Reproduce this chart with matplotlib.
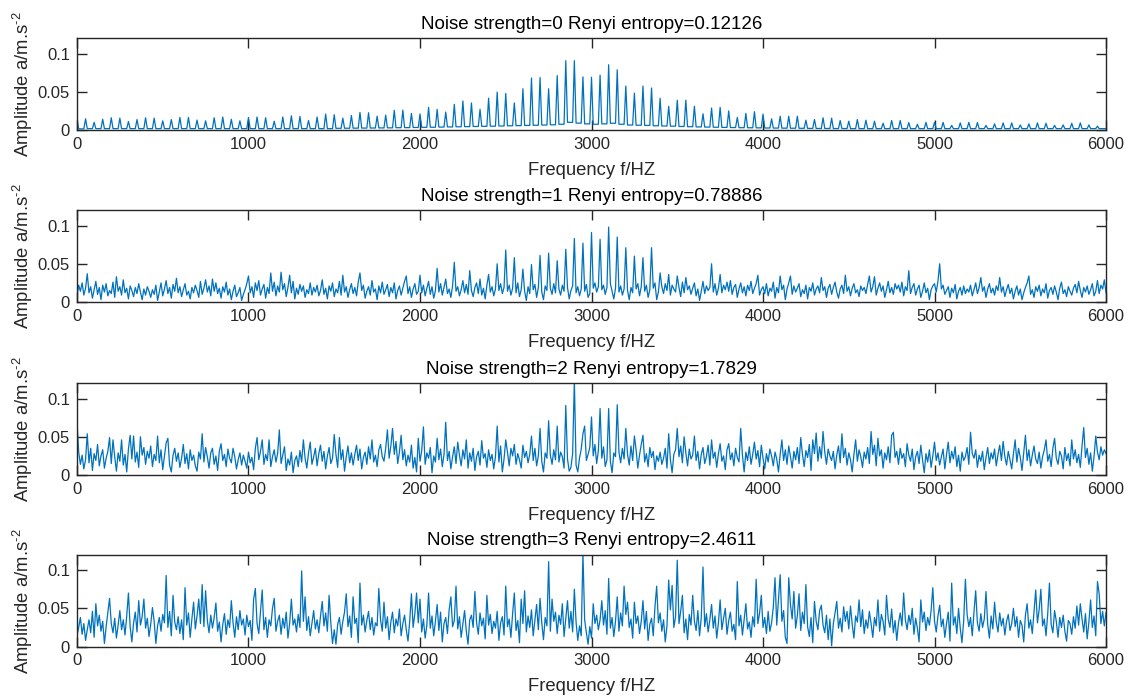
import numpy as np
import matplotlib
matplotlib.use('Agg')
import matplotlib.pyplot as plt

plt.rcParams['font.family'] = ['Liberation Sans', 'DejaVu Sans']
plt.rcParams['mathtext.fontset'] = 'custom'
plt.rcParams['mathtext.rm'] = 'Liberation Sans'
plt.rcParams['mathtext.default'] = 'regular'

noise_strength = [0, 1, 2, 3]
renyi_entropy = ['0.12126', '0.78886', '1.7829', '2.4611']

# clean spectrum: harmonic lines every 50 Hz from 0 to 5950 Hz (1e-3 m/s^2)
harmonic_step = 50
clean_peaks = [
    13, 14.6, 10, 14, 16, 15.5, 11, 13.7, 16, 15.5,
    12, 13.7, 16.4, 16.4, 13, 12, 16, 17, 14, 12,
    16.4, 17, 16, 11.5, 17, 18.6, 17.7, 12.4, 17, 20.8,
    20, 15.5, 19, 23, 22.6, 18, 19.5, 25.7, 26, 21.7,
    21, 29.6, 27, 23.5, 33.6, 38, 35.4, 27, 41.6, 49.6,
    47.8, 35.4, 54, 68, 68.6, 54, 71.2, 90.7, 90.7, 69.5,
    69, 71.7, 85.4, 78.8, 57.5, 48.2, 57.5, 55, 41.6, 31,
    39, 39, 31, 21.2, 28.8, 29.6, 25, 16.4, 21.7, 24,
    20.8, 14.6, 18, 18, 18, 12.8, 13.7, 16, 15.5, 12.4,
    11.5, 13.7, 12.8, 11.5, 8.8, 12.4, 12.4, 9.7, 7.5, 10,
    10, 10, 6, 9.3, 10, 9.7, 6, 8, 9.3, 9.3,
    6.6, 8, 9.3, 8.8, 6, 6.6, 8.8, 9.3, 6.6, 5,
]
# level between neighbouring lines (gap after each line)
clean_floor = [
    1.5, 1.8, 1.8, 1.8, 1.8, 1.8, 1.8, 1.8, 1.8, 1.8,
    1.8, 1.8, 1.8, 1.8, 1.8, 1.8, 1.8, 1.8, 1.8, 1.8,
    1.8, 1.8, 1.8, 1.8, 1.8, 1.8, 1.8, 1.8, 1.8, 1.8,
    2.2, 2.3, 2.4, 2.5, 2.6, 2.7, 2.8, 3.0, 3.1, 3.3,
    3.5, 3.6, 3.8, 4.0, 4.2, 4.4, 4.6, 4.8, 5.0, 5.2,
    5.5, 5.7, 6.0, 6.2, 6.5, 6.8, 7.5, 10, 9, 8,
    7.5, 8, 8.8, 7.5, 6.5, 6.2, 6.0, 5.5, 5.2, 5.0,
    4.6, 4.3, 4.0, 3.8, 3.6, 3.4, 3.2, 3.0, 2.9, 2.8,
    2.6, 2.5, 2.4, 2.3, 2.2, 2.1, 2.0, 2.0, 1.9, 1.9,
    1.8, 1.8, 1.8, 1.8, 1.8, 1.8, 1.8, 1.8, 1.8, 1.8,
    1.8, 1.8, 1.8, 1.8, 1.8, 1.8, 1.8, 1.8, 1.8, 1.8,
    1.8, 1.8, 1.8, 1.8, 1.8, 1.8, 1.8, 1.8, 1.8, 1.8,
]

# noisy spectra, one value every 10 Hz from 0 to 6000 Hz (1e-3 m/s^2)
noisy_step = 10
noisy_1 = [
    8, 22, 14, 25, 9, 18, 37, 12, 20, 5, 16, 27, 10, 19, 3, 22, 13, 24, 8, 15,
    11, 26, 6, 33, 14, 20, 9, 29, 12, 18, 4, 21, 15, 7, 19, 11, 24, 13, 3, 17,
    9, 20, 14, 6, 16, 10, 22, 2, 13, 25, 8, 17, 28, 11, 19, 5, 23, 14, 31, 12,
    20, 7, 16, 24, 9, 14, 4, 19, 12, 22, 15, 6, 27, 10, 18, 29, 13, 21, 8, 30,
    14, 25, 11, 18, 5, 20, 13, 26, 9, 17, 3, 14, 22, 7, 12, 19, 2, 10, 16, 24,
    34, 12, 20, 6, 25, 15, 28, 9, 17, 23, 5, 19, 11, 38, 14, 26, 8, 21, 13, 39,
    16, 24, 7, 19, 35, 12, 27, 4, 18, 10, 23, 14, 21, 6, 16, 11, 25, 9, 19, 13,
    22, 8, 15, 29, 10, 18, 4, 21, 14, 25, 7, 17, 12, 27, 9, 35, 13, 20, 6, 16,
    24, 11, 19, 8, 26, 38, 15, 22, 5, 14, 20, 9, 28, 13, 17, 3, 21, 12, 26, 10,
    16, 23, 7, 19, 12, 25, 4, 15, 21, 9, 18, 27, 34, 11, 20, 6, 17, 24, 10, 14,
    35, 12, 22, 8, 18, 27, 10, 20, 5, 15, 44, 13, 24, 9, 19, 30, 11, 17, 6, 21,
    52, 14, 20, 8, 16, 28, 12, 23, 10, 41, 15, 7, 19, 25, 11, 30, 9, 18, 4, 22,
    36, 13, 20, 8, 17, 50, 15, 24, 11, 19, 68, 14, 22, 9, 18, 58, 12, 25, 7, 16,
    43, 14, 2, 20, 11, 49, 16, 23, 6, 19, 61, 13, 3, 21, 15, 64, 18, 10, 24, 12,
    54, 17, 9, 22, 14, 69, 19, 4, 15, 21, 83, 12, 20, 8, 17, 77, 14, 23, 6, 11,
    91, 18, 25, 13, 20, 82, 16, 22, 10, 19, 98, 24, 14, 4, 18, 85, 13, 21, 9, 17,
    71, 15, 3, 19, 12, 60, 17, 24, 8, 20, 58, 14, 22, 6, 16, 71, 18, 25, 3, 13,
    38, 20, 11, 24, 15, 36, 9, 22, 17, 13, 34, 19, 7, 26, 12, 32, 16, 21, 10, 18,
    25, 8, 17, 2, 14, 27, 11, 21, 15, 19, 50, 13, 24, 9, 18, 36, 12, 22, 16, 26,
    14, 28, 10, 19, 23, 6, 17, 25, 12, 20, 8, 22, 15, 27, 11, 18, 24, 35, 9, 16,
    20, 11, 24, 8, 18, 14, 26, 5, 19, 12, 34, 16, 22, 3, 17, 25, 34, 10, 21, 13,
    18, 24, 7, 16, 11, 22, 4, 19, 14, 25, 9, 17, 21, 12, 32, 15, 20, 6, 18, 23,
    10, 19, 26, 13, 5, 17, 22, 11, 35, 14, 20, 8, 18, 24, 12, 16, 7, 21, 15, 19,
    11, 23, 34, 13, 20, 33, 9, 18, 25, 14, 21, 6, 16, 27, 12, 19, 10, 24, 17, 22,
    13, 26, 8, 20, 15, 41, 11, 19, 24, 9, 17, 22, 6, 14, 25, 12, 18, 3, 16, 21,
    24, 13, 27, 50, 17, 22, 10, 15, 20, 6, 18, 12, 23, 4, 14, 19, 9, 21, 11, 17,
    13, 22, 8, 16, 25, 11, 19, 32, 14, 20, 6, 17, 24, 12, 18, 9, 21, 15, 32, 13,
    20, 7, 16, 23, 11, 18, 4, 14, 21, 9, 17, 3, 12, 19, 25, 34, 10, 16, 6, 20,
    14, 22, 8, 17, 12, 24, 5, 15, 19, 10, 21, 13, 3, 18, 26, 11, 16, 7, 20, 14,
    9, 18, 23, 12, 27, 15, 6, 19, 13, 21, 10, 16, 24, 8, 14, 28, 11, 22, 17, 29,
    12,
]
noisy_2 = [
    70, 30, 14, 26, 8, 20, 54, 16, 35, 6, 28, 19, 40, 12, 25, 33, 9, 22, 31, 49,
    15, 46, 24, 5, 29, 18, 46, 13, 27, 4, 34, 52, 21, 51, 17, 30, 10, 50, 26, 36,
    14, 31, 22, 38, 11, 27, 19, 51, 16, 33, 7, 24, 42, 48, 13, 4, 26, 35, 18, 29,
    10, 22, 40, 15, 28, 8, 33, 19, 26, 12, 5, 30, 21, 54, 17, 36, 24, 9, 29, 35,
    14, 25, 6, 31, 41, 19, 27, 11, 34, 22, 16, 35, 24, 8, 20, 29, 13, 26, 18, 9,
    30, 16, 23, 7, 35, 49, 20, 31, 46, 14, 27, 19, 46, 11, 24, 33, 17, 28, 59, 15,
    26, 37, 6, 21, 13, 30, 3, 19, 25, 11, 32, 17, 46, 22, 9, 29, 43, 14, 24, 35,
    12, 28, 39, 18, 31, 8, 25, 36, 15, 22, 53, 27, 10, 49, 20, 33, 5, 24, 38, 16,
    29, 13, 27, 39, 19, 34, 8, 23, 30, 14, 37, 21, 46, 17, 26, 11, 33, 40, 24, 18,
    35, 59, 22, 38, 61, 27, 44, 15, 30, 52, 20, 33, 12, 26, 17, 39, 9, 23, 4, 48,
    18, 32, 63, 14, 29, 22, 36, 3, 25, 17, 48, 20, 34, 11, 27, 69, 19, 31, 8, 24,
    37, 15, 43, 26, 12, 33, 21, 46, 9, 29, 18, 35, 6, 24, 31, 13, 45, 22, 28, 10,
    33, 19, 27, 8, 24, 64, 17, 38, 4, 21, 46, 30, 12, 35, 25, 40, 14, 28, 20, 9,
    39, 23, 31, 16, 27, 51, 19, 35, 12, 25, 61, 18, 4, 29, 22, 71, 26, 14, 33, 20,
    64, 17, 30, 24, 9, 91, 21, 5, 10, 28, 125, 13, 4, 22, 34, 54, 64, 19, 27, 36,
    76, 25, 40, 15, 32, 87, 22, 37, 11, 20, 87, 18, 3, 29, 24, 92, 30, 16, 35, 21,
    61, 27, 13, 38, 19, 51, 33, 9, 26, 40, 52, 17, 28, 11, 36, 23, 31, 7, 25, 18,
    30, 14, 22, 35, 9, 54, 20, 3, 27, 33, 61, 24, 38, 16, 50, 29, 12, 34, 21, 26,
    51, 19, 31, 8, 27, 36, 15, 24, 39, 13, 46, 22, 30, 10, 28, 41, 18, 25, 7, 33,
    41, 20, 29, 12, 35, 23, 17, 61, 26, 4, 30, 19, 37, 14, 27, 43, 21, 32, 11, 39,
    22, 8, 28, 17, 34, 25, 12, 30, 21, 4, 27, 46, 19, 33, 14, 38, 24, 9, 31, 20,
    36, 15, 49, 27, 11, 32, 23, 40, 6, 46, 28, 55, 18, 37, 22, 57, 30, 14, 34, 25,
    19, 31, 8, 26, 38, 16, 54, 23, 35, 13, 29, 20, 4, 27, 46, 18, 33, 24, 10, 30,
    21, 36, 15, 57, 27, 39, 12, 48, 25, 33, 9, 29, 20, 37, 16, 52, 56, 23, 31, 14,
    35, 22, 28, 11, 41, 26, 18, 34, 7, 24, 31, 15, 39, 20, 3, 28, 17, 33, 10, 25,
    43, 19, 29, 13, 24, 34, 8, 27, 43, 16, 31, 21, 37, 11, 26, 5, 30, 19, 24, 36,
    14, 56, 28, 22, 33, 10, 26, 18, 31, 7, 23, 36, 15, 29, 21, 34, 12, 27, 39, 19,
    44, 24, 13, 31, 20, 8, 28, 46, 17, 35, 23, 6, 29, 52, 19, 33, 12, 26, 38, 21,
    15, 30, 9, 24, 33, 46, 18, 27, 11, 35, 48, 22, 14, 31, 25, 8, 36, 19, 28, 12,
    46, 21, 33, 16, 27, 10, 38, 62, 23, 35, 14, 29, 5, 24, 51, 30, 20, 37, 26, 33,
    28,
]
noisy_3 = [
    14, 25, 38, 16, 30, 8, 22, 35, 18, 46, 12, 56, 27, 41, 20, 33, 4, 26, 44, 63,
    30, 18, 37, 11, 28, 47, 22, 35, 15, 40, 70, 26, 6, 31, 45, 19, 60, 28, 39, 62,
    24, 37, 13, 29, 51, 33, 4, 27, 38, 20, 42, 31, 93, 25, 46, 14, 67, 32, 22, 39,
    17, 35, 9, 77, 28, 44, 12, 36, 58, 23, 40, 62, 30, 81, 26, 73, 34, 18, 41, 24,
    38, 57, 20, 32, 6, 29, 43, 16, 35, 25, 60, 31, 12, 39, 22, 47, 28, 36, 15, 41,
    26, 34, 8, 62, 76, 30, 17, 45, 74, 22, 38, 12, 35, 27, 50, 63, 20, 33, 41, 16,
    37, 24, 45, 11, 30, 62, 28, 36, 19, 42, 25, 99, 33, 65, 21, 39, 14, 31, 47, 23,
    35, 18, 40, 59, 27, 44, 20, 67, 31, 4, 22, 3, 29, 38, 16, 33, 45, 69, 26, 40,
    12, 65, 30, 37, 5, 83, 28, 41, 19, 34, 46, 22, 38, 15, 31, 27, 76, 35, 20, 58,
    24, 39, 9, 32, 45, 18, 36, 27, 49, 14, 30, 41, 22, 7, 33, 69, 25, 43, 70, 31,
    62, 19, 36, 11, 28, 70, 24, 40, 14, 33, 55, 21, 45, 6, 30, 38, 17, 48, 65, 26,
    34, 79, 23, 39, 12, 29, 47, 20, 3, 35, 41, 25, 72, 31, 16, 44, 27, 37, 10, 67,
    28, 42, 17, 33, 24, 46, 8, 31, 39, 15, 79, 26, 36, 12, 43, 70, 21, 34, 5, 62,
    30, 73, 19, 40, 25, 48, 14, 35, 55, 22, 63, 31, 9, 38, 27, 111, 20, 62, 33, 45,
    17, 41, 29, 56, 13, 37, 60, 24, 46, 19, 75, 32, 8, 27, 14, 122, 35, 18, 3, 26,
    11, 56, 30, 41, 22, 35, 60, 28, 47, 16, 89, 24, 38, 13, 33, 65, 20, 44, 27, 79,
    42, 58, 25, 36, 11, 58, 30, 40, 17, 33, 60, 23, 46, 8, 29, 37, 14, 52, 79, 31,
    44, 20, 35, 6, 27, 87, 48, 80, 25, 39, 113, 30, 46, 67, 18, 36, 9, 42, 28, 67,
    33, 21, 47, 14, 38, 104, 26, 43, 19, 35, 55, 24, 40, 11, 31, 61, 22, 37, 50, 16,
    34, 45, 20, 29, 9, 85, 27, 41, 15, 36, 56, 23, 32, 12, 39, 26, 88, 30, 44, 67,
    25, 38, 17, 46, 20, 31, 52, 90, 28, 61, 94, 33, 47, 12, 4, 90, 55, 36, 72, 24,
    40, 69, 21, 45, 30, 81, 26, 13, 38, 5, 59, 33, 22, 47, 54, 28, 18, 41, 9, 36,
    1, 30, 44, 59, 24, 37, 19, 52, 33, 46, 23, 53, 29, 11, 40, 32, 61, 26, 48, 17,
    35, 24, 46, 30, 12, 38, 27, 61, 20, 42, 33, 15, 67, 36, 25, 49, 18, 34, 8, 31,
    44, 27, 70, 35, 22, 41, 29, 50, 16, 37, 24, 6, 61, 32, 45, 21, 38, 28, 47, 77,
    33, 19, 40, 54, 26, 36, 12, 30, 45, 7, 83, 28, 39, 17, 50, 24, 5, 34, 88, 42,
    26, 38, 14, 45, 73, 31, 20, 43, 25, 36, 72, 29, 11, 40, 23, 58, 32, 19, 44, 27,
    37, 15, 33, 42, 21, 30, 50, 26, 39, 12, 34, 28, 6, 41, 56, 24, 35, 17, 46, 74,
    31, 48, 75, 27, 36, 14, 43, 83, 29, 18, 47, 33, 12, 38, 25, 41, 20, 7, 34, 30,
    16, 39, 24, 53, 28, 56, 36, 19, 43, 10, 32, 61, 25, 40, 14, 85, 69, 30, 46, 27,
    45,
]

line_color = '#0072BD'
axis_color = '#262626'
# panel bottoms in figure fraction, top to bottom
panel_bottom = [0.8143, 0.5686, 0.3214, 0.0764]
panel_left, panel_width, panel_height = 0.0683, 0.9131, 0.131


def harmonic_trace(peaks, floor, step, half_width=10):
    xs, ys = [], []
    for k, (a, b) in enumerate(zip(peaks, floor)):
        f = k * step
        xs += [f, f + half_width, f + step - half_width]
        ys += [a, b, b]
    xs.append(len(peaks) * step)
    ys.append(floor[-1])
    return np.array(xs), np.array(ys) * 1e-3


def noisy_trace(values, step):
    values = np.array(values, dtype=float)
    return np.arange(len(values)) * step, values * 1e-3


traces = [harmonic_trace(clean_peaks, clean_floor, harmonic_step),
          noisy_trace(noisy_1, noisy_step),
          noisy_trace(noisy_2, noisy_step),
          noisy_trace(noisy_3, noisy_step)]

fig = plt.figure(figsize=(11.27, 7), dpi=100)
for (x, y), bottom, ns, ent in zip(traces, panel_bottom, noise_strength, renyi_entropy):
    ax = fig.add_axes([panel_left, bottom, panel_width, panel_height])
    ax.plot(x, y, color=line_color, lw=0.9)
    ax.set_xlim(0, 6000)
    ax.set_ylim(0, 0.12)
    ax.set_xticks(range(0, 6001, 1000))
    ax.set_yticks([0, 0.05, 0.1])
    ax.set_yticklabels(['0', '0.05', '0.1'])
    ax.tick_params(direction='in', length=7.5, width=1, top=True, right=True,
                   colors=axis_color, labelsize=12, pad=5)
    for sp in ax.spines.values():
        sp.set_color(axis_color)
        sp.set_linewidth(1)
    ax.set_title(f'Noise strength={ns} Renyi entropy={ent}', fontsize=13.5,
                 color='black', pad=7)
    ax.set_xlabel('Frequency f/HZ', fontsize=13.3, color=axis_color)
    ax.set_ylabel(r'Amplitude a/m.s$^{\text{-}2}$', fontsize=13.3, color=axis_color)
    ax.xaxis.set_label_coords(0.5, -0.345)
    ax.yaxis.set_label_coords(-0.041, 0.5)

fig.savefig('out.png', dpi=100, facecolor='white')
